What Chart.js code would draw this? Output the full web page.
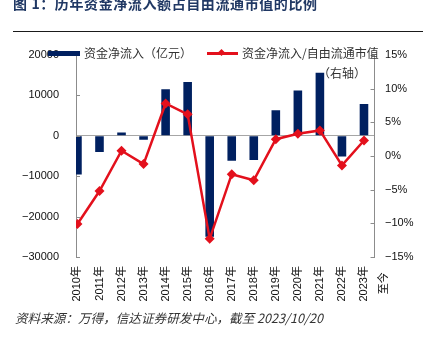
<!DOCTYPE html>
<html>
<head>
<meta charset="utf-8">
<script src="https://cdn.jsdelivr.net/npm/chart.js@4/dist/chart.umd.min.js"></script>
<style>
    body { margin: 0; background: #fff; }
    .page { position: relative; width: 428px; height: 344px; overflow: hidden; background: #fff; }
    .page canvas { position: absolute; left: 0; top: 0; }
    .title { position: absolute; left: 13px; top: -4px; font: 700 14px 'Noto Sans CJK SC', sans-serif; color: #203864; line-height: 14px; white-space: nowrap; letter-spacing: 0.6px; }
    .rule { position: absolute; left: 13px; top: 31px; width: 410px; height: 1px; background: #1a1a1a; }
    .legend-text { position: absolute; font: 12px 'Noto Sans CJK SC', sans-serif; color: #333; line-height: 12px; white-space: nowrap; }
    .swatch-bar { position: absolute; left: 48px; top: 51px; width: 32px; height: 5px; background: #002060; }
    .swatch-line { position: absolute; left: 207px; top: 52px; width: 31px; height: 2.5px; background: #e3101c; }
    .swatch-dot { position: absolute; left: 219px; top: 50px; width: 5px; height: 5px; background: #e3101c; transform: rotate(45deg); }
    .source { position: absolute; left: 15px; top: 311px; font: italic 12.6px 'Noto Sans CJK SC', sans-serif; color: #333; white-space: nowrap; line-height: 14px; }
</style>
</head>
<body>
<div class="page">
    <canvas id="flowChart" width="428" height="344"></canvas>
    <div class="title">图 1：历年资金净流入额占自由流通市值的比例</div>
    <div class="rule"></div>
    <div class="swatch-bar"></div>
    <div class="legend-text" style="left:84px; top:47px;">资金净流入（亿元）</div>
    <div class="swatch-line"></div>
    <div class="swatch-dot"></div>
    <div class="legend-text" style="left:242px; top:47px;">资金净流入/自由流通市值</div>
    <div class="legend-text" style="left:318px; top:67px;">（右轴）</div>
    <div class="source">资料来源：万得，信达证券研发中心，截至 2023/10/20</div>
</div>
<script>
// Categories and series
const years = ['2010年', '2011年', '2012年', '2013年', '2014年', '2015年', '2016年',
               '2017年', '2018年', '2019年', '2020年', '2021年', '2022年', ['2023年', '至今  ']];
const netInflow = [-9600, -4000, 800, -1000, 11500, 13300, -25000,
                   -6200, -6000, 6300, 11200, 15600, -5100, 7900];          // 亿元
const inflowRatio = [-10.1, -5.2, 0.8, -1.2, 7.8, 6.2, -12.3,
                     -2.7, -3.6, 2.5, 3.3, 3.8, -1.4, 2.3];                // %
const leftTicks = [-30000, -20000, -10000, 0, 10000, 20000];
const rightTicks = [-15, -10, -5, 0, 5, 10, 15];

const MINUS = '\u2212';
const tickFont = { family: "'Liberation Sans', 'Noto Sans CJK SC', sans-serif", size: 11 };

function fmtNum(v) {
    return v < 0 ? MINUS + Math.abs(v) : String(v);
}

// small inward tick marks on both value axes
const innerTicks = {
    id: 'innerTicks',
    afterDraw(chart) {
        const ctx = chart.ctx;
        ctx.save();
        ctx.strokeStyle = '#8c8c8c';
        ctx.lineWidth = 1;
        ['y', 'y1'].forEach(id => {
            const scale = chart.scales[id];
            const x0 = id === 'y' ? scale.right : scale.left;
            const dir = id === 'y' ? 1 : -1;
            scale.ticks.forEach(t => {
                const py = Math.round(scale.getPixelForValue(t.value)) + 0.5;
                ctx.beginPath();
                ctx.moveTo(x0, py);
                ctx.lineTo(x0 + dir * 4, py);
                ctx.stroke();
            });
        });
        ctx.restore();
    }
};

document.addEventListener('DOMContentLoaded', function() {
    const ctx = document.getElementById('flowChart');

    new Chart(ctx, {
        type: 'bar',
        data: {
            datasets: [
                {
                    type: 'line',
                    label: '资金净流入/自由流通市值（右轴）',
                    data: inflowRatio.map((v, i) => ({ x: i, y: v })),
                    yAxisID: 'y1',
                    borderColor: '#e3101c',
                    backgroundColor: '#e3101c',
                    borderWidth: 2.5,
                    pointStyle: 'rectRot',
                    pointRadius: 5,
                    pointBorderWidth: 0,
                    tension: 0,
                    order: 0
                },
                {
                    type: 'bar',
                    label: '资金净流入（亿元）',
                    data: netInflow.map((v, i) => ({ x: i, y: v })),
                    yAxisID: 'y',
                    backgroundColor: '#002060',
                    borderWidth: 0,
                    categoryPercentage: 1,
                    barPercentage: 0.39,
                    order: 1
                }
            ]
        },
        options: {
            responsive: false,
            animation: false,
            devicePixelRatio: 1,
            layout: { padding: { left: 5, right: 4, top: 55, bottom: 33.5 } },
            plugins: {
                legend: { display: false },
                tooltip: { enabled: false }
            },
            scales: {
                x: {
                    type: 'linear',
                    min: -0.065,
                    max: 13.48,
                    offset: false,
                    grid: { display: false, drawTicks: false, offset: false },
                    border: { display: false },
                    afterBuildTicks: axis => {
                        axis.ticks = years.map((_, i) => ({ value: i }));
                    },
                    ticks: {
                        autoSkip: false,
                        minRotation: 90,
                        maxRotation: 90,
                        padding: 9,
                        color: '#111',
                        font: Object.assign({ lineHeight: 1.78 }, tickFont),
                        callback: (value, index) => years[index]
                    }
                },
                y: {
                    position: 'left',
                    min: leftTicks[0],
                    max: leftTicks[leftTicks.length - 1],
                    afterBuildTicks: axis => {
                        axis.ticks = leftTicks.map(v => ({ value: v }));
                    },
                    grid: {
                        drawTicks: false,
                        color: c => (c.tick && c.tick.value === 0 ? '#a6a6a6' : 'rgba(0,0,0,0)')
                    },
                    border: { display: true, color: '#8c8c8c', width: 1 },
                    ticks: {
                        padding: 17,
                        color: '#111',
                        font: tickFont,
                        callback: v => fmtNum(v)
                    }
                },
                y1: {
                    position: 'right',
                    min: rightTicks[0],
                    max: rightTicks[rightTicks.length - 1],
                    afterBuildTicks: axis => {
                        axis.ticks = rightTicks.map(v => ({ value: v }));
                    },
                    grid: { display: false, drawTicks: false },
                    border: { display: true, color: '#8c8c8c', width: 1 },
                    ticks: {
                        padding: 10.5,
                        color: '#111',
                        font: tickFont,
                        callback: v => fmtNum(v) + '%'
                    }
                }
            }
        },
        plugins: [innerTicks]
    });
});
</script>
</body>
</html>
